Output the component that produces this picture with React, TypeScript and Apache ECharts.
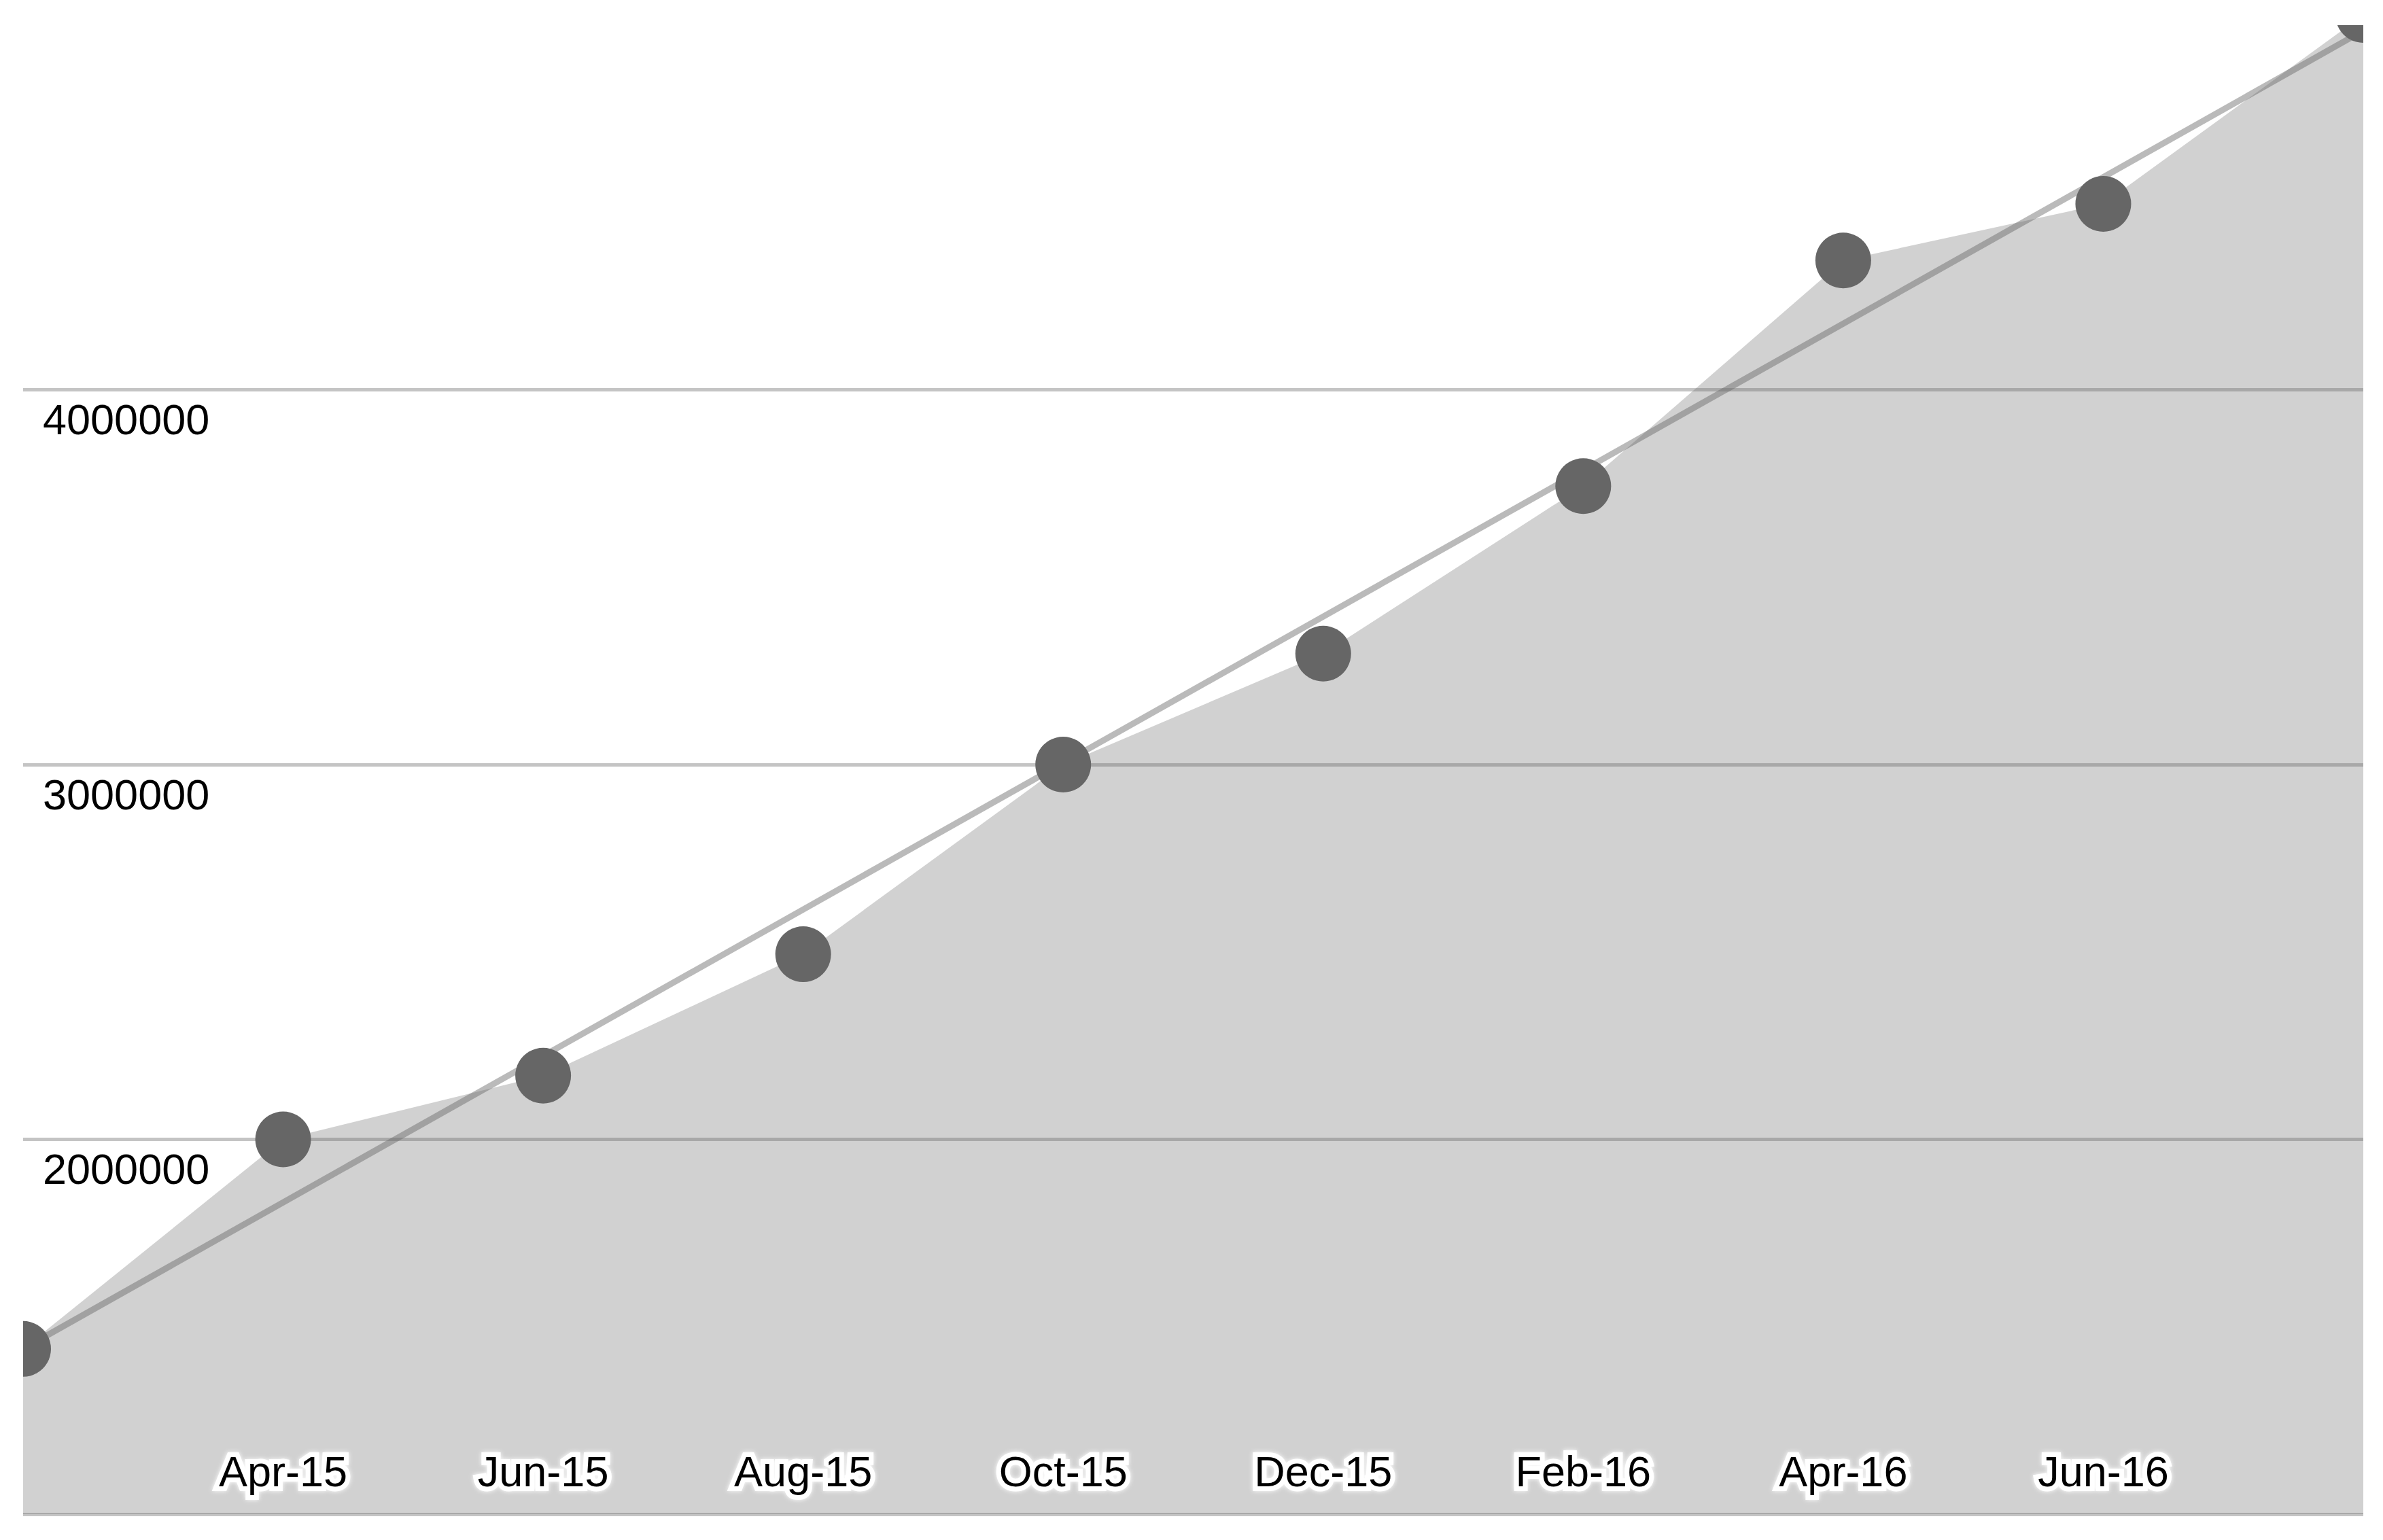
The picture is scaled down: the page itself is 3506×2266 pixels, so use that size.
import React, { useEffect, useRef } from "react";
import * as echarts from "echarts";

const categories = ["Feb-15", "Apr-15", "Jun-15", "Aug-15", "Oct-15", "Dec-15", "Feb-16", "Apr-16", "Jun-16", "Aug-16"];
const values = [1441000, 2000000, 2170000, 2494000, 3000000, 3296000, 3743000, 4345000, 4496000, 5000000];
const trendCategories = ["Feb-15", "Aug-16"];
const trendValues = [1441000, 4958000];
const yMin = 1000000;
const yMax = 5000000;
const yInterval = 1000000;

const FONT = "'Liberation Sans', Arial, sans-serif";

export default function App() {
  const ref = useRef<HTMLDivElement>(null);
  useEffect(() => {
    if (!ref.current) return;
    const chart = echarts.init(ref.current, null, { renderer: "svg" });
    const W = 3506;
    const H = 2266;
    const option: any = {
      animation: false,
      backgroundColor: "#ffffff",
      grid: { left: 34, right: 29, top: 22, bottom: 38, containLabel: false },
      xAxis: {
        type: "category",
        data: categories,
        boundaryGap: false,
        axisLine: { show: false },
        axisTick: { show: false },
        splitLine: { show: false },
        z: 10,
        axisLabel: {
          inside: true,
          margin: 32,
          interval: (i: number) => i > 0 && i < categories.length - 1,
          fontSize: 63,
          lineHeight: 63,
          fontFamily: FONT,
          color: "#000",
          textBorderColor: "#ffffff",
          textBorderWidth: 14,
          textShadowColor: "#ffffff",
          textShadowBlur: 6,
        },
      },
      yAxis: {
        type: "value",
        min: yMin,
        max: yMax,
        interval: yInterval,
        axisLine: { show: false },
        axisTick: { show: false },
        splitLine: { show: true, lineStyle: { color: "#c4c4c4", width: 5 } },
        axisLabel: {
          inside: true,
          margin: 29,
          showMinLabel: false,
          showMaxLabel: false,
          fontSize: 63,
          lineHeight: 63,
          fontFamily: FONT,
          color: "#000",
          verticalAlign: "top",
          padding: [12, 0, 0, 0],
          formatter: (v: number) => String(v),
        },
      },
      series: [
        {
          type: "line",
          data: values,
          symbol: "none",
          lineStyle: { width: 0, opacity: 0 },
          areaStyle: { color: "#666666", opacity: 0.3 },
          z: 2,
          silent: true,
        },
        {
          type: "line",
          data: trendCategories.map((c, i) => [c, trendValues[i]]),
          symbol: "none",
          lineStyle: { color: "#666666", width: 9, opacity: 0.45 },
          z: 3,
          silent: true,
        },
        {
          type: "line",
          data: values,
          symbol: "circle",
          symbolSize: 82,
          showAllSymbol: true,
          clip: false,
          itemStyle: { color: "#666666" },
          lineStyle: { width: 0, opacity: 0 },
          z: 4,
          silent: true,
        },
      ],
      graphic: [
        { type: "rect", z: 100, shape: { x: 0, y: 0, width: 34, height: H }, style: { fill: "#fff" }, silent: true },
        { type: "rect", z: 100, shape: { x: 3477, y: 0, width: W - 3477, height: H }, style: { fill: "#fff" }, silent: true },
        { type: "rect", z: 100, shape: { x: 0, y: 0, width: W, height: 37 }, style: { fill: "#fff" }, silent: true },
        { type: "rect", z: 100, shape: { x: 0, y: 2231, width: W, height: H - 2231 }, style: { fill: "#fff" }, silent: true },
      ],
    };
    chart.setOption(option);
    return () => chart.dispose();
  }, []);
  return (
    <div
      ref={ref}
      style={{ position: "fixed", left: 0, top: 0, width: 3506, height: 2266, background: "#fff" }}
    />
  );
}
